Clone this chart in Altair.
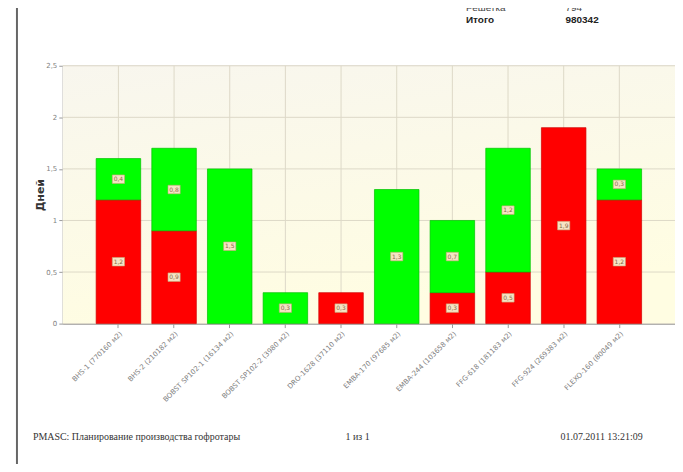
import altair as alt
import pandas as pd

categories = [
    "BHS-1 (770160 м2)", "BHS-2 (210182 м2)", "BOBST SP102-1 (16134 м2)",
    "BOBST SP102-2 (3980 м2)", "DRO-1628 (37110 м2)", "EMBA-170 (97685 м2)",
    "EMBA-244 (103658 м2)", "FFG-618 (181183 м2)", "FFG-924 (269383 м2)",
    "FLEXO-160 (80049 м2)",
]
red_values = [1.2, 0.9, 0.0, 0.0, 0.3, 0.0, 0.3, 0.5, 1.9, 1.2]
green_values = [0.4, 0.8, 1.5, 0.3, 0.0, 1.3, 0.7, 1.2, 0.0, 0.3]
y_ticks = [0, 0.5, 1, 1.5, 2, 2.5]
series_names = ["red", "green"]
series_colors = ["#FF0000", "#00FF00"]
series_strokes = ["#D00000", "#00C000"]

rows = []
for c, r, g in zip(categories, red_values, green_values):
    start = 0.0
    for s, v in (("red", r), ("green", g)):
        if v > 0:
            rows.append(dict(cat=c, series=s, y0=start, y1=start + v,
                             mid=start + v / 2,
                             label=f"{v:.1f}".replace(".", ",")))
        start += v
df = pd.DataFrame(rows)
cat_df = pd.DataFrame({"cat": categories})
tick_df = pd.DataFrame({"t": y_ticks})
one = pd.DataFrame({"a": [0]})

W, H = 615, 259

xscale = alt.Scale(domain=categories, paddingInner=0.2, paddingOuter=0.6)
yscale = alt.Scale(domain=[0, 2.5])
xaxis = alt.Axis(title=None, grid=False, labelAngle=315, labelAlign="right",
                 labelBaseline="top", labelFont="DejaVu Sans", labelFontSize=7,
                 labelColor="#808080", labelPadding=2, tickSize=4,
                 tickColor="#999999", domainColor="#999999", labelOverlap=False)
yaxis = alt.Axis(title="Дней", grid=False, values=y_ticks,
                 labelExpr="replace(toString(datum.value), '.', ',')",
                 labelFont="DejaVu Sans", labelFontSize=7, labelColor="#808080",
                 labelPadding=2, tickSize=4, tickColor="#999999", domainColor="#999999",
                 titleFont="DejaVu Sans", titleFontSize=11, titleFontWeight="bold",
                 titleColor="#333333", titlePadding=0)

X = alt.X("cat:N", sort=categories, scale=xscale, axis=xaxis)

bg = alt.Chart(one).mark_rect(
    fill=alt.Gradient(gradient="linear",
                      stops=[alt.GradientStop(color="#F8F6EE", offset=0),
                             alt.GradientStop(color="#FFFDE2", offset=1)],
                      x1=0, x2=0.3, y1=0, y2=1)
).encode(x=alt.value(0), x2=alt.value(W), y=alt.value(0), y2=alt.value(H))

vgrid = alt.Chart(cat_df).mark_rule(color="#DDD9C8", strokeWidth=1).encode(x=X)
hgrid = alt.Chart(tick_df).mark_rule(color="#DDD9C8", strokeWidth=1).encode(
    y=alt.Y("t:Q", scale=yscale, axis=yaxis))

bars = alt.Chart(df).mark_bar(strokeWidth=0.7, opacity=1).encode(
    x=X,
    y=alt.Y("y0:Q", scale=yscale, axis=yaxis),
    y2="y1:Q",
    color=alt.Color("series:N", scale=alt.Scale(domain=series_names, range=series_colors), legend=None),
    stroke=alt.Stroke("series:N", scale=alt.Scale(domain=series_names, range=series_strokes), legend=None),
)

box_path = "M-1,-0.7L1,-0.7L1,0.7L-1,0.7Z"
boxes = alt.Chart(df).mark_point(shape=box_path, size=150, filled=True,
                                 fill="#F6E4C4", stroke="#C8A676",
                                 strokeWidth=0.6, opacity=1).encode(
    x=X, y=alt.Y("mid:Q", scale=yscale, axis=yaxis))
labels = alt.Chart(df).mark_text(font="DejaVu Sans", fontSize=6, color="#8A6A4A").encode(
    x=X, y=alt.Y("mid:Q", scale=yscale, axis=yaxis), text="label:N")


def txt(s, x, y, size=10, bold=False, font="Liberation Sans", color="#222222"):
    return alt.Chart(one).mark_text(
        text=s, align="left", baseline="middle", font=font, fontSize=size,
        fontWeight="bold" if bold else "normal", color=color
    ).encode(x=alt.value(x), y=alt.value(y))


border = alt.Chart(one).mark_rule(color="#666666", strokeWidth=2).encode(
    x=alt.value(-46), y=alt.value(-60), y2=alt.value(402))

decor = [
    border,
    txt("Решетка", 405, -58, color="#444444"),
    txt("794", 505, -58, color="#444444"),
    txt("Итого", 405, -46, bold=True),
    txt("980342", 505, -46, bold=True),
    txt("PMASC: Планирование производства гофротары", -30, 373, size=10,
        font="Liberation Serif", color="#333333"),
    txt("1 из 1", 284, 373, size=10, font="Liberation Serif", color="#333333"),
    txt("01.07.2011 13:21:09", 500, 373, size=10, font="Liberation Serif", color="#333333"),
]

chart = alt.layer(bg, vgrid, hgrid, bars, boxes, labels, *decor).properties(
    width=W, height=H,
    autosize=alt.AutoSizeParams(type="none"),
    padding={"left": 55, "top": 57, "right": 0, "bottom": 140},
    background="white",
).configure_view(stroke="#AAAAAA", fill=None)

chart.save("out.html", embed_options={"renderer": "svg", "actions": False})
